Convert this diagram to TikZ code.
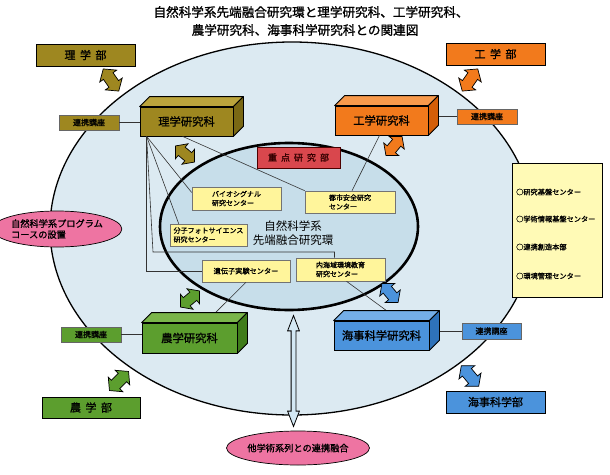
\documentclass[tikz,border=0pt]{standalone}
\usepackage{fontspec}
\newfontfamily\jp{Noto Sans CJK JP}
\newfontfamily\jpb[FakeBold=1.2]{Noto Sans CJK JP}
\usetikzlibrary{shapes.geometric,shapes.arrows,calc}
\definecolor{rgold}{HTML}{9E8720}
\definecolor{rgoldT}{HTML}{BBA43C}
\definecolor{rgoldS}{HTML}{7A6814}
\definecolor{kor}{HTML}{F27A1C}
\definecolor{korT}{HTML}{F89A4C}
\definecolor{korS}{HTML}{D45E08}
\definecolor{ngreen}{HTML}{5C9E2E}
\definecolor{ngreenT}{HTML}{7AB54A}
\definecolor{ngreenS}{HTML}{3F7C1A}
\definecolor{mblue}{HTML}{4B93DC}
\definecolor{mblueT}{HTML}{74AEE8}
\definecolor{mblueS}{HTML}{2E72BA}
\definecolor{yelbox}{HTML}{FFF59B}
\definecolor{redbox}{HTML}{D9474D}
\definecolor{pinkel}{HTML}{EE74A2}
\definecolor{sidebox}{HTML}{FFFAB6}
\definecolor{outerbg}{HTML}{DCEAF2}
\definecolor{innerbg}{HTML}{C7DEEA}
\definecolor{arrowbg}{HTML}{D3E8F4}
\newcommand{\cubefaces}[3]{%
  \filldraw[fill=#2, draw=black, line width=0.8pt, line join=round] (#1.north west) -- ++(10,-10) -- ($(#1.north east)+(10,-10)$) -- (#1.north east) -- cycle;
  \filldraw[fill=#3, draw=black, line width=0.8pt, line join=round] (#1.north east) -- ++(10,-10) -- ($(#1.south east)+(10,-10)$) -- (#1.south east) -- cycle;
}
\tikzset{
  dept/.style={draw=black, line width=0.8pt, inner sep=0pt, minimum width=99pt, minimum height=22pt, font=\jpb\fontsize{11}{13}\selectfont},
  grad/.style={draw=black, line width=0.8pt, inner sep=0pt, minimum width=93pt, minimum height=29pt, font=\jpb\fontsize{11.3}{13}\selectfont},
  renkei/.style={draw=black!60, line width=0.6pt, minimum width=60pt, minimum height=15pt, inner sep=0pt, font=\jpb\fontsize{8}{9}\selectfont},
  ybox/.style={fill=yelbox, draw=black!55, line width=0.6pt, inner sep=0pt, align=left, font=\jpb\fontsize{7}{9}\selectfont},
  fat/.style={double arrow, draw=black, line width=0.7pt, minimum height=27pt, inner xsep=0pt, inner ysep=5.5pt, double arrow head extend=4.5pt, double arrow tip angle=100},
  fatsmall/.style={minimum height=25pt, inner ysep=5pt},
  conn/.style={draw=black!80, line width=0.6pt},
  pinkell/.style={ellipse, fill=pinkel, draw=black, line width=0.7pt, inner sep=0pt, font=\jpb\fontsize{9.2}{11}\selectfont},
  item/.style={anchor=west, inner sep=0pt, font=\jpb\fontsize{7.2}{9}\selectfont}
}
\begin{document}
\begin{tikzpicture}[x=1pt,y=-1pt]
\useasboundingbox (0,0) rectangle (610,474);
\fill[white] (0,0) rectangle (610,474);

% title
\node[font=\jpb\fontsize{12.6}{14}\selectfont, inner sep=0pt] (title1) at (311,12) {自然科学系先端融合研究環と理学研究科、工学研究科、};
\node[font=\jpb\fontsize{12.6}{14}\selectfont, inner sep=0pt] (title2) at (305,30) {農学研究科、海事科学研究科との関連図};

% outer ellipse
\node[ellipse, fill=outerbg, draw=black, line width=1.3pt, minimum width=484pt, minimum height=373pt, inner sep=0pt] (outer) at (292,228.5) {};

% left pink ellipse
\node[pinkell, minimum width=110pt, minimum height=36pt, align=left] (prog) at (57,229) {自然科学系プログラム\\コースの設置};

% bottom pink ellipse
\node[pinkell, minimum width=130pt, minimum height=34pt] (other) at (298,448) {他学術系列との連携融合};

% inner ellipse
\node[ellipse, fill=innerbg, draw=black, line width=2.6pt, minimum width=258pt, minimum height=167pt, inner sep=0pt] (inner) at (289,226.5) {};

% centre text
\node[font=\jp\fontsize{11.5}{14}\selectfont, align=center, inner sep=0pt] (core) at (293,233.5) {自然科学系\\先端融合研究環};

% vertical double arrow
\path (inner.south) -- (other.north) node[midway, double arrow, rotate=90, draw=black, line width=0.8pt, fill=arrowbg, minimum height=111pt, inner xsep=0pt, inner ysep=2pt, double arrow head extend=3.5pt, double arrow tip angle=42] (varrow) {};

% right side box
\node[fill=sidebox, draw=black, line width=0.8pt, minimum width=90pt, minimum height=134pt, inner sep=0pt] (side) at (557,230) {};
\node[item] (s1) at (516,192) {○研究基盤センター};
\node[item] (s2) at (516,219) {○学術情報基盤センター};
\node[item] (s3) at (516,247) {○連携創造本部};
\node[item] (s4) at (516,276) {○環境管理センター};

% red box
\node[fill=redbox, draw=black!70!red, line width=0.8pt, minimum width=83pt, minimum height=21pt, inner sep=0pt, text=black!80!red, font=\jpb\fontsize{9}{10}\selectfont] (juten) at (298.5,157.5) {重\hspace{4pt}点\hspace{4pt}研\hspace{4pt}究\hspace{4pt}部};

% yellow boxes
\node[ybox, minimum width=89pt, minimum height=23pt] (bio) at (236.5,198.5) {バイオシグナル\\研究センター};
\node[ybox, minimum width=90pt, minimum height=22pt] (toshi) at (350,202) {都市安全研究\\センター};
\node[ybox, minimum width=77pt, minimum height=22pt] (bun) at (208.5,235) {分子フォトサイエンス\\研究センター};
\node[ybox, minimum width=88pt, minimum height=22pt, font=\jpb\fontsize{7.2}{9}\selectfont] (iden) at (246,271) {遺伝子実験センター};
\node[ybox, minimum width=89pt, minimum height=23pt] (nai) at (340.5,269.5) {内海域環境教育\\研究センター};

% faculties
\node[dept, fill=rgold] (rB) at (85.5,55) {理\hspace{4.5pt}学\hspace{4.5pt}部};
\node[dept, fill=kor] (kB) at (495.5,54) {工\hspace{4.5pt}学\hspace{4.5pt}部};
\node[dept, fill=ngreen, minimum width=98pt, minimum height=21pt] (nB) at (91,407.5) {農\hspace{4.5pt}学\hspace{4.5pt}部};
\node[dept, fill=mblue] (mB) at (495.5,402) {海事科学部};

% graduate schools (front faces)
\node[grad, fill=rgold] (rK) at (186.5,121.5) {理学研究科};
\node[grad, fill=kor] (kK) at (381.5,120.5) {工学研究科};
\node[grad, fill=ngreen, minimum width=95pt, minimum height=30pt] (nK) at (189.5,338) {農学研究科};
\node[grad, fill=mblue, minimum width=95pt] (mK) at (381.5,335.5) {海事科学研究科};

% renkei boxes
\node[renkei, fill=rgold] (rR) at (89,122.5) {連携講座};
\node[renkei, fill=kor] (kR) at (487,116.5) {連携講座};
\node[renkei, fill=ngreen] (nR) at (91,334.5) {連携講座};
\node[renkei, fill=mblue, minimum width=59pt, minimum height=16pt] (mR) at (491.5,331) {連携講座};

% connectors
\coordinate (rA) at ($(rK.south west)+(7,0)$);
\draw[conn] (rA) -- ([yshift=6pt]bio.west);
\draw[conn] (rA) -- ($(bun.north west)+(9,0)$);
\draw[conn] (rA) -- (153,252) -| ($(nai.north)+(-6,0)$);
\draw[conn] (rA) |- (iden.west);
\draw[conn] ($(rK.south west)+(43,0)$) -- (toshi.north west);
\draw[conn] ($(kK.south)+(-2,0)$) -- ($(toshi.north)+(2,0)$);
\draw[conn] (iden.south) -- ($(nK.north)+(25,-9)$);
\draw[conn] ($(nai.south)+(6,0)$) -- ($(mK.north)+(5,-10)$);
\draw[conn] (rR.east) -- (rR.east -| rK.west);
\draw[conn] (kR.west) -- ($(kR.west -| kK.east)+(10,0)$);
\draw[conn] (nR.east) -- (nR.east -| nK.west);
\draw[conn] (mR.west) -- ($(mR.west -| mK.east)+(10,0)$);

% 3D faces
\cubefaces{rK}{rgoldT}{rgoldS}
\cubefaces{kK}{korT}{korS}
\cubefaces{nK}{ngreenT}{ngreenS}
\cubefaces{mK}{mblueT}{mblueS}

% fat double arrows
\node[fat, fill=rgold, rotate=-55] (a1) at (111,80) {};
\node[fat, fill=kor, rotate=55] (a2) at (470,80) {};
\node[fat, fill=ngreen, rotate=45] (a3) at (119,381) {};
\node[fat, fill=mblue, rotate=-50] (a4) at (470,376) {};
\node[fat, fatsmall, fill=rgold, rotate=-40] (a5) at (185,154) {};
\node[fat, fatsmall, fill=kor, rotate=50] (a6) at (394,146) {};
\node[fat, fatsmall, fill=ngreen, rotate=40] (a7) at (190,299) {};
\node[fat, fatsmall, fill=mblue, rotate=-50] (a8) at (390,293) {};
\end{tikzpicture}
\end{document}
